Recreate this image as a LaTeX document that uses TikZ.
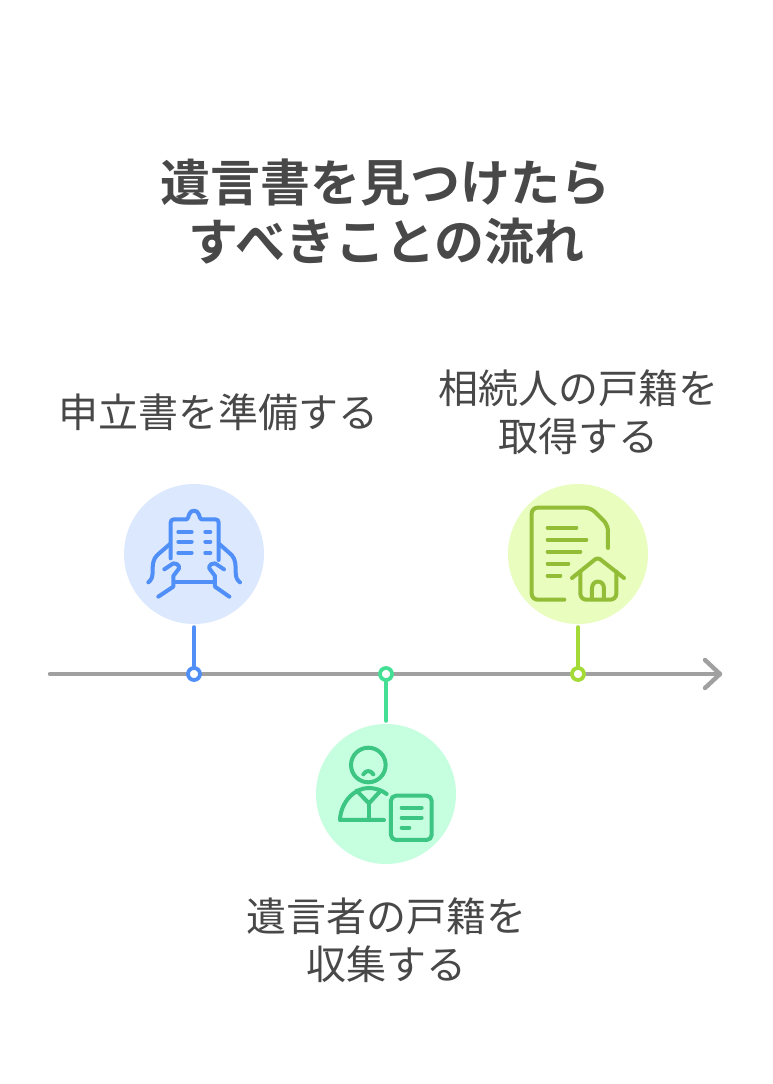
\documentclass[tikz,border=0pt]{standalone}
\usepackage{fontspec}
\setmainfont{Noto Sans CJK JP}[BoldFont={Noto Sans CJK JP Bold}]
\definecolor{txt}{HTML}{484848}
\definecolor{axisc}{HTML}{A0A0A0}
\definecolor{bluel}{HTML}{4F8FF7}\definecolor{bluef}{HTML}{DBE8FE}
\definecolor{greenl}{HTML}{45DE95}\definecolor{greenf}{HTML}{C6FEE0}\definecolor{greeni}{HTML}{3CC583}
\definecolor{limel}{HTML}{A3DA36}\definecolor{limef}{HTML}{E8FDBE}\definecolor{limei}{HTML}{93BD37}
\tikzset{
  disc/.style={circle,minimum size=140pt,inner sep=0pt,fill=#1},
  dot/.style={circle,minimum size=12pt,inner sep=0pt,draw=#1,fill=white,line width=3.8pt},
  stem/.style={draw=#1,line width=4pt,line cap=round},
  axisline/.style={draw=axisc,line width=4.4pt,line cap=round,line join=round},
  icon/.style={draw=#1,line width=4pt,line cap=round,line join=round,x=0.3333pt,y=-0.3333pt},
  label/.style={text=txt,align=center,inner sep=0pt,font=\fontsize{40}{48}\selectfont},
  headline/.style={text=txt,align=center,inner sep=0pt,font=\fontsize{50}{59}\selectfont\bfseries}
}
\begin{document}
\begin{tikzpicture}[x=1pt,y=-1pt]
\useasboundingbox[fill=white] (0,0) rectangle (773,1084);
\node[headline] (title) at (385,211.5) {遺言書を見つけたら\\\hspace*{3pt}すべきことの流れ};
% axis
\coordinate (axisA) at (50,674);
\coordinate (axisB) at (720,674);
\draw[axisline] (axisA) -- (axisB);
\draw[axisline] ([shift={(-15,-14)}]axisB) -- (axisB) -- ([shift={(-15,14)}]axisB);
% discs
\node[disc=bluef] (c1) at (194,554) {};
\node[disc=greenf] (c2) at (386,794) {};
\node[disc=limef] (c3) at (578,554) {};
\node[dot=bluel] (d1) at (194,674) {};
\node[dot=greenl] (d2) at (386,674) {};
\node[dot=limel] (d3) at (578,674) {};
\draw[stem=bluel,shorten <=3pt] (c1) -- (d1);
\draw[stem=greenl,shorten >=3pt] (d2) -- (c2);
\draw[stem=limel,shorten <=3pt] (c3) -- (d3);
% labels
\node[label] (l1) at (218,412) {申立書を準備する};
\node[label] (l2) at (386,940) {遺言者の戸籍を\\収集する};
\node[label] (l3) at (578,412) {相続人の戸籍を\\取得する};
% icon 1
\begin{scope}[shift={(120,480)}]
\draw[icon=bluel] (152,235) -- (152,128) .. controls (152,122) and (155,118) .. (162,118) -- (200,118) .. controls (204,118) and (205,110) .. (207,104) .. controls (212,88) and (232,88) .. (237,104) .. controls (239,110) and (240,118) .. (244,118) -- (286,118) .. controls (293,118) and (296,122) .. (296,128) -- (296,240);
\draw[icon=bluel] (165,306) -- (280,306);
\foreach \yy in {156,185,219}{
  \draw[icon=bluel] (175,\yy) -- (215,\yy);
  \draw[icon=bluel] (256,\yy) -- (271,\yy);
}
\draw[icon=bluel] (150,192) -- (112,225) .. controls (98,238) and (98,255) .. (98,275) .. controls (98,292) and (94,300) .. (85,307);
\draw[icon=bluel] (133,268) -- (160,250) .. controls (178,250) and (182,265) .. (172,272) -- (160,288) -- (160,320) -- (115,350);
\draw[icon=bluel] (298,192) -- (335,225) .. controls (347,238) and (347,255) .. (347,275) .. controls (347,292) and (351,300) .. (360,307);
\draw[icon=bluel] (312,268) -- (285,250) .. controls (267,250) and (263,265) .. (273,272) -- (285,288) -- (285,320) -- (328,350);
\end{scope}
% icon 2
\begin{scope}[shift={(500,480)}]
\draw[icon=limei,rounded corners=6pt] (193,359) -- (95,359) -- (95,83) -- (272,83) -- (324,135) -- (324,204);
\draw[icon=limei] (143,143) -- (229,143);
\draw[icon=limei] (143,179) -- (259,179);
\draw[icon=limei] (143,215) -- (241,215);
\draw[icon=limei] (143,251) -- (205,251);
\draw[icon=limei] (143,287) -- (181,287);
\draw[icon=limei,rounded corners=3pt] (216,294) -- (293,232) -- (372,294);
\draw[icon=limei,rounded corners=6pt] (241,275) -- (241,359) -- (349,359) -- (349,275);
\draw[icon=limei] (276,357) -- (276,325) .. controls (276,298) and (312,298) .. (312,325) -- (312,357);
\end{scope}
% icon 3
\begin{scope}[shift={(310,660)}]
\draw[icon=greeni] (175,315) circle [radius=17.3pt];
\draw[icon=greeni] (160,343) .. controls (168,330) and (182,330) .. (190,343);
\draw[icon=greeni] (222,480) -- (90,480) .. controls (92,425) and (135,384) .. (175,384) .. controls (195,384) and (215,390) .. (230,402);
\draw[icon=greeni] (140,392) -- (177,430) -- (212,392);
\draw[icon=greeni] (177,430) -- (177,480);
\draw[icon=greeni,rounded corners=5pt] (243,407) rectangle (365,540);
\draw[icon=greeni] (275,443) -- (335,443);
\draw[icon=greeni] (275,473) -- (335,473);
\draw[icon=greeni] (275,503) -- (298,503);
\end{scope}
\end{tikzpicture}
\end{document}
